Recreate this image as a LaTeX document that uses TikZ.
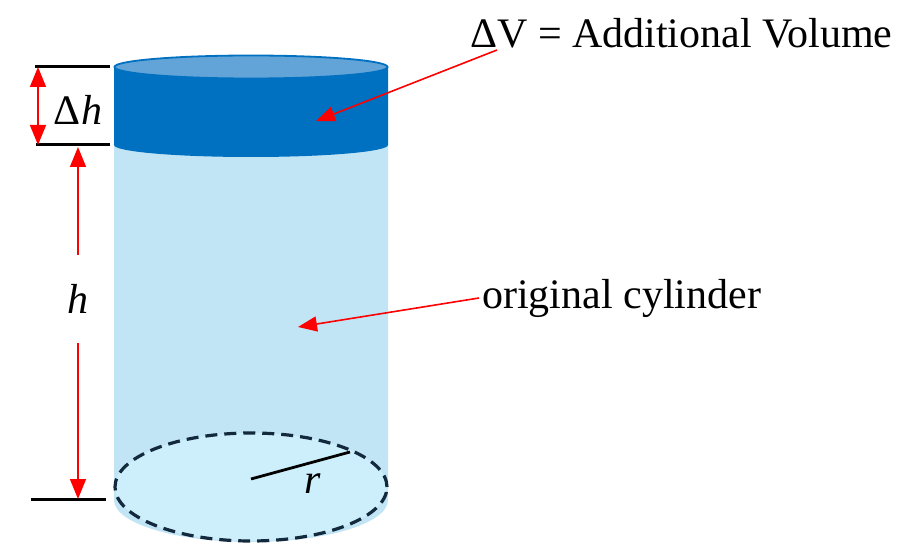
\documentclass[tikz,border=0pt]{standalone}
\usepackage{fontspec}
\setmainfont{Liberation Serif}
\usetikzlibrary{arrows.meta}
\definecolor{capblue}{HTML}{0070C0}
\definecolor{captop}{HTML}{62A4D8}
\definecolor{bodyblue}{HTML}{C2E5F5}
\definecolor{baseblue}{HTML}{CDEEFB}
\definecolor{dashnavy}{HTML}{13293D}
\begin{document}
\begin{tikzpicture}[x=1pt,y=1pt,
  dimline/.style={line width=3pt},
  dimarrow/.style={red,line width=1.6pt,-{Triangle[width=16pt,length=20pt]}},
  callout/.style={red,line width=1.6pt,-{Triangle[width=15pt,length=19pt]}},
  lbl/.style={font=\fontsize{42}{48}\selectfont,inner sep=3pt}]
\useasboundingbox (0,0) rectangle (911,-553);
% original cylinder
\fill[bodyblue] (114,-145) -- (114,-500) arc[start angle=180,end angle=360,x radius=137,y radius=42] -- (388,-145) -- cycle;
\filldraw[fill=baseblue,draw=dashnavy,line width=3.2pt,dash pattern=on 12pt off 7pt] (251,-487) ellipse[x radius=136,y radius=54];
% additional volume
\fill[capblue] (114,-67) -- (114,-145) arc[start angle=180,end angle=360,x radius=137,y radius=12] -- (388,-67) -- cycle;
\filldraw[fill=captop,draw=capblue,line width=1.8pt] (251,-67) ellipse[x radius=136.5,y radius=11.5];
% dimension lines
\draw[dimline] (35,-67) -- (110,-67);
\draw[dimline] (36,-145) -- (110,-145);
\draw[dimline] (31,-499) -- (106,-499);
\coordinate (dhtop) at (38,-67);
\coordinate (dhbot) at (38,-145);
\draw[red,line width=1.6pt,{Triangle[width=16pt,length=20pt]}-{Triangle[width=16pt,length=20pt]}] (dhtop) -- (dhbot);
\node[lbl] (dhlab) at (78,-110) {Δ\textit{h}};
\coordinate (htop) at (78,-147);
\coordinate (hbot) at (78,-499);
\node[lbl,minimum height=88pt] (hlab) at (78,-299) {\textit{h}};
\draw[dimarrow] (hlab) -- (htop);
\draw[dimarrow] (hlab) -- (hbot);
% radius
\coordinate (rc) at (251,-479);
\coordinate (redge) at (350,-452);
\draw[line width=2.8pt] (rc) -- (redge);
\node[lbl] (rlab) at (313,-484) {\textit{r}};
% labels
\node[lbl,anchor=base west,inner sep=0pt] (dvlab) at (470,-48) {ΔV = Additional Volume};
\coordinate (dvfoot) at (497,-50);
\coordinate (dvtip) at (316,-121);
\draw[callout] (dvfoot) -- (dvtip);
\node[lbl,anchor=west] (origlab) at (479,-298) {original cylinder};
\coordinate (origtip) at (298,-327);
\draw[callout] (origlab.west) -- (origtip);
\end{tikzpicture}
\end{document}
